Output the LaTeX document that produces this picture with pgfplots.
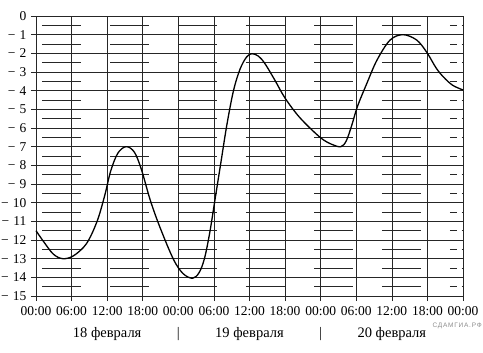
\documentclass[border=0pt]{standalone}
\usepackage{pgfplots}
\pgfplotsset{compat=1.18}
\usepackage{fontspec}
\setmainfont{Liberation Serif}
\newfontfamily\wmfont[LetterSpace=12]{Liberation Sans}
\newcommand{\m}{−\hspace{0.3em}}
\newcommand{\fs}{\fontsize{13.5bp}{15bp}\selectfont}
\newcommand{\fd}{\fontsize{14.5bp}{16bp}\selectfont}
\begin{document}
\fs
\begin{tikzpicture}[font=\fs]
\begin{axis}[
  scale only axis, width=427bp, height=280bp,
  xmin=0, xmax=72, ymin=-15, ymax=0,
  xtick={0,6,...,72},
  xticklabels={00:00,06:00,12:00,18:00,00:00,06:00,12:00,18:00,00:00,06:00,12:00,18:00,00:00},
  ytick={-15,-14,...,0},
  yticklabels={\m15,\m14,\m13,\m12,\m11,\m10,\m9,\m8,\m7,\m6,\m5,\m4,\m3,\m2,\m1,0},
  ticklabel style={font=\fs},
  grid=major, major grid style={black!85, line width=0.6bp},
  axis line style={black!85, line width=0.6bp},
  tick align=outside, major tick length=5bp, tick style={black!85, line width=0.6bp},
  tick pos=left,
  yticklabel style={inner sep=0pt, xshift=-4.5bp},
  xticklabel style={yshift=-1bp},
  clip=false,
]
\pgfplotsinvokeforeach{-0.5,-1.5,-2.5,-3.5,-4.5,-5.5,-6.5,-7.5,-8.5,-9.5,-10.5,-11.5,-12.5,-13.5,-14.5}{
 \addplot[black!85, line width=0.6bp, unbounded coords=jump, forget plot] coordinates {(0,#1)(0.22,#1)(0.5,nan)(1,#1)(7.6,#1)(10,nan)(12.5,#1)(19,#1)(21,nan)(24,#1)(30.5,#1)(33,nan)(35.4,#1)(42,#1)(44,nan)(46.9,#1)(53.5,#1)(56,nan)(58.3,#1)(64.9,#1)(67,nan)(69.8,#1)(71,#1)(71.3,nan)(71.75,#1)(72,#1)};
}
\addplot[black, line width=1.3bp, smooth, tension=0.55] coordinates {
(0,-11.5)(1.2,-12.05)(2.9,-12.75)(4.5,-13.0)(6.3,-12.85)(8.5,-12.2)(10.3,-11.0)(11.6,-9.6)(12.6,-8.3)(13.8,-7.35)(15.2,-7.0)(16.6,-7.3)(17.8,-8.25)(19.3,-9.9)(21,-11.4)(23.2,-13.05)(24.8,-13.8)(26.4,-14.05)(27.5,-13.75)(28.4,-13.0)(29.3,-11.6)(30.2,-9.8)(31.2,-7.8)(32.2,-5.8)(33.3,-4.0)(34.4,-2.85)(35.5,-2.2)(36.4,-2.02)(37.5,-2.15)(38.6,-2.55)(40.3,-3.45)(42,-4.4)(44.5,-5.45)(47.9,-6.5)(49.9,-6.88)(51.4,-7.0)(52.3,-6.7)(53.2,-5.9)(54.2,-4.85)(55.8,-3.6)(57.5,-2.36)(59.7,-1.29)(61.9,-1.0)(64.2,-1.29)(65.9,-1.95)(67.5,-2.8)(68.8,-3.3)(70.3,-3.72)(72,-3.96)
};
\coordinate (O) at (rel axis cs:0,0);
\node[font=\fd] at (axis cs:12,-15) [yshift=-38bp] {18 февраля};
\node[font=\fd] at (axis cs:24,-15) [yshift=-38bp] {|};
\node[font=\fd] at (axis cs:36,-15) [yshift=-38bp] {19 февраля};
\node[font=\fd] at (axis cs:48,-15) [yshift=-38bp] {|};
\node[font=\fd] at (axis cs:60,-15) [yshift=-38bp] {20 февраля};
\node[anchor=east, inner sep=0pt, text=black!45, font=\wmfont\fontsize{6.5bp}{7bp}\selectfont] at (rel axis cs:1,0) [xshift=19bp, yshift=-30bp] {СДАМГИА.РФ};
\end{axis}
\pgfresetboundingbox
\path[use as bounding box] (O) ++(-36bp,-57bp) rectangle ++(483bp,353bp);
\end{tikzpicture}
\end{document}
